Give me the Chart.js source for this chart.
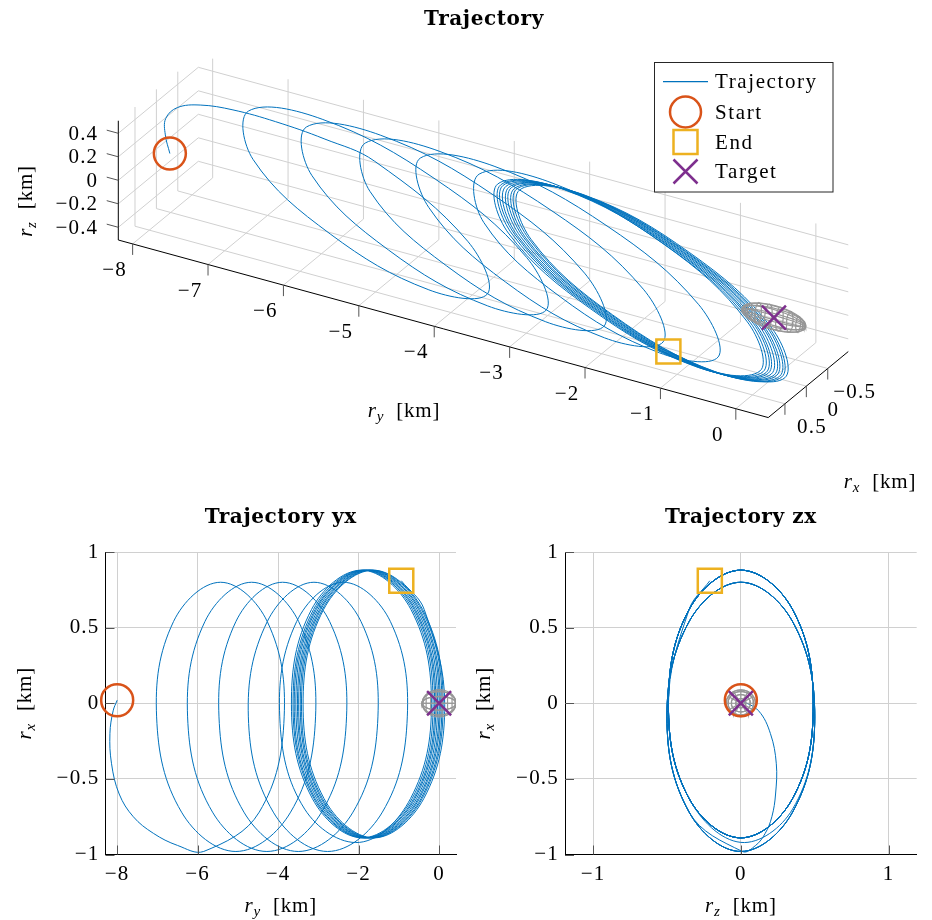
<!DOCTYPE html>
<html><head><meta charset="utf-8">
<script src="https://cdn.jsdelivr.net/npm/chart.js@4.4.1/dist/chart.umd.min.js"></script>
<style>
html,body{margin:0;padding:0;background:#fff;}
#wrap{position:relative;width:932px;height:920px;overflow:hidden;background:#fff;}
canvas{position:absolute;}
</style></head><body>
<div id="wrap">
<canvas id="c3d" width="932" height="505" style="left:0;top:0;width:932px;height:505px"></canvas>
<canvas id="cyx" width="466" height="430" style="left:0;top:490px;width:466px;height:430px"></canvas>
<canvas id="czx" width="466" height="430" style="left:466px;top:490px;width:466px;height:430px"></canvas>
</div>
<script>
// ---------------- DATA (km) ----------------
// trajectory samples: along-track ry, radial rx, cross-track rz
const trajRy = [
 -8.00, -8.10, -8.18, -8.14, -7.95, -7.60, -7.10, -6.50, -5.85,
 -4.47, -3.85, -4.27, -5.43, -6.60,
 -7.02, -6.40, -5.05, -3.69, -3.07, -3.49, -4.66, -5.82,
 -6.25, -5.63, -4.28, -2.92, -2.30, -2.72, -3.89, -5.05,
 -5.47, -4.85, -3.50, -2.14, -1.52, -1.94, -3.11, -4.27,
 -4.74, -4.12, -2.77, -1.41, -0.79, -1.21, -2.38, -3.54,
 -3.96, -3.34, -1.98,
 -0.71, -0.19, -0.70, -1.93, -3.17,
 -3.67, -3.15, -1.91, -0.67, -0.15, -0.66, -1.89, -3.12,
 -3.63, -3.11, -1.87, -0.63, -0.11, -0.62, -1.85, -3.08,
 -3.60, -3.08, -1.84, -0.60, -0.08, -0.59, -1.82, -3.05,
 -3.56, -3.04, -1.80, -0.56, -0.04, -0.55, -1.78, -3.01,
 -3.52, -3.00, -1.76, -0.52,  0.00, -0.51, -1.74, -2.97,
 -3.49, -2.97, -1.73, -0.49,  0.03, -0.48, -1.71, -2.94,
 -3.45, -2.93, -1.69, -0.45,  0.07, -0.44, -1.67, -2.90,
 -3.42, -2.90, -1.66, -0.42,  0.10, -0.41, -1.64, -2.87,
 -3.38, -2.86, -1.62, -0.38,  0.14, -0.37, -0.94
];
const trajRx = [
  0.02, -0.05, -0.20, -0.40, -0.60, -0.75, -0.86, -0.94, -0.98,
 -0.72, -0.09,  0.54,  0.80,  0.54,
 -0.09, -0.72, -0.98, -0.72, -0.09,  0.54,  0.80,  0.54,
 -0.09, -0.72, -0.98, -0.72, -0.09,  0.54,  0.80,  0.54,
 -0.09, -0.72, -0.98, -0.72, -0.09,  0.54,  0.80,  0.54,
 -0.09, -0.72, -0.98, -0.72, -0.09,  0.54,  0.80,  0.54,
 -0.09, -0.70, -0.92,
 -0.63, -0.01,  0.62,  0.88,  0.62,
 -0.01, -0.63, -0.89, -0.63, -0.01,  0.62,  0.88,  0.62,
 -0.01, -0.63, -0.89, -0.63, -0.01,  0.62,  0.88,  0.62,
 -0.01, -0.63, -0.89, -0.63, -0.01,  0.62,  0.88,  0.62,
 -0.01, -0.63, -0.89, -0.63, -0.01,  0.62,  0.88,  0.62,
 -0.01, -0.63, -0.89, -0.63, -0.01,  0.62,  0.88,  0.62,
 -0.01, -0.63, -0.89, -0.63, -0.01,  0.62,  0.88,  0.62,
 -0.01, -0.63, -0.89, -0.63, -0.01,  0.62,  0.88,  0.62,
 -0.01, -0.63, -0.89, -0.63, -0.01,  0.62,  0.88,  0.62,
 -0.01, -0.63, -0.89, -0.63, -0.01,  0.62,  0.81
];
const trajRz = [
  0.00,  0.12,  0.20,  0.24,  0.235, 0.21,  0.165, 0.10,  0.01,
 -0.35, -0.50, -0.35,  0.00,  0.35,
  0.50,  0.35,  0.00, -0.35, -0.50, -0.35,  0.00,  0.35,
  0.50,  0.35,  0.00, -0.35, -0.50, -0.35,  0.00,  0.35,
  0.50,  0.35,  0.00, -0.35, -0.50, -0.35,  0.00,  0.35,
  0.50,  0.35,  0.00, -0.35, -0.50, -0.35,  0.00,  0.35,
  0.50,  0.35,  0.00,
 -0.35, -0.49, -0.35,  0.00,  0.35,
  0.49,  0.35,  0.00, -0.35, -0.49, -0.35,  0.00,  0.35,
  0.49,  0.35,  0.00, -0.35, -0.49, -0.35,  0.00,  0.35,
  0.49,  0.35,  0.00, -0.35, -0.49, -0.35,  0.00,  0.35,
  0.49,  0.35,  0.00, -0.35, -0.49, -0.35,  0.00,  0.35,
  0.49,  0.35,  0.00, -0.35, -0.49, -0.35,  0.00,  0.35,
  0.49,  0.35,  0.00, -0.35, -0.49, -0.35,  0.00,  0.35,
  0.49,  0.35,  0.00, -0.35, -0.49, -0.35,  0.00,  0.35,
  0.49,  0.35,  0.00, -0.35, -0.49, -0.35,  0.00,  0.35,
  0.49,  0.35,  0.00, -0.35, -0.49, -0.35, -0.21
];
const startPoint  = [-8.00, 0.02, 0.00];   // [ry, rx, rz]
const endPoint    = [-0.94, 0.81, -0.21];
const targetPoint = [0, 0, 0];
const keepOutRadii = [0.42, 0.09, 0.10];   // ellipsoid semi-axes [ry, rx, rz]
const meshMeridians = [0, 30, 60, 90, 120, 150, 180, 210, 240, 270, 300, 330];
const meshLatitudes = [20, 40, 60, 80, 100, 120, 140, 160];

// tick labels
const ryTicks3D = [-8, -7, -6, -5, -4, -3, -2, -1, 0];
const rxTicks3D = [-0.5, 0, 0.5];
const rzTicks3D = [-0.4, -0.2, 0, 0.2, 0.4];
const ryTicks2D = [-8, -6, -4, -2, 0];
const rzTicks2D = [-1, 0, 1];
const rxTicks2D = [-1, -0.5, 0, 0.5, 1];
const legendLabels = ['Trajectory', 'Start', 'End', 'Target'];

// ---------------- STYLE ----------------
const C_TRAJ = '#0072BD', C_START = '#D95319', C_END = '#EDB120', C_TGT = '#7E2F8E';
const C_MESH = '#979797', C_GRID = '#d0d0d0';
const FONT = '"Liberation Serif", "Times New Roman", serif';
const TFONT = '"DejaVu Serif", serif';
const LS = '1.2px';

function fmt(v) { return (v < 0 ? '\u2212' : '') + String(Math.abs(v)); }

// 3D box geometry
const lim3 = { ry: [-8.19, 0.43], rx: [-0.98, 0.89], rz: [-0.508, 0.507] };
const corner3 = [118.3, 240];
const eY = [75.4, 20.6], eX = [-42.8, 35.3], eZ = [0, -117.5];
function proj3(ry, rx, rz) {
  const a = ry - lim3.ry[0], b = rx - lim3.rx[1], c = rz - lim3.rz[0];
  return { x: corner3[0] + a * eY[0] + b * eX[0] + c * eZ[0],
           y: corner3[1] + a * eY[1] + b * eX[1] + c * eZ[1] };
}

function meshLines() {
  const d = Math.PI / 180, [a, b, c] = keepOutRadii, [y0, x0, z0] = targetPoint;
  const lines = [];
  meshMeridians.forEach(ph => {
    const L = [];
    for (let t = 0; t <= 180; t += 10) L.push([y0 + a * Math.cos(t * d), x0 + b * Math.sin(t * d) * Math.cos(ph * d), z0 + c * Math.sin(t * d) * Math.sin(ph * d)]);
    lines.push(L);
  });
  meshLatitudes.forEach(t => {
    const L = [];
    for (let ph = 0; ph <= 360; ph += 15) L.push([y0 + a * Math.cos(t * d), x0 + b * Math.sin(t * d) * Math.cos(ph * d), z0 + c * Math.sin(t * d) * Math.sin(ph * d)]);
    lines.push(L);
  });
  return lines;
}
const MESH = meshLines();

function drawRLabel(ctx, sub, cx, cy, rot) {
  ctx.save();
  ctx.letterSpacing = '0.8px';
  ctx.translate(cx, cy);
  if (rot) ctx.rotate(-Math.PI / 2);
  const fIt = 'italic 21px ' + FONT, fSub = 'italic 15px ' + FONT, fMain = '21px ' + FONT;
  ctx.font = fIt; const w1 = ctx.measureText('r').width;
  ctx.font = fSub; const w2 = ctx.measureText(sub).width;
  ctx.font = fMain; const w3 = ctx.measureText('  [km]').width;
  let x = -(w1 + w2 + w3) / 2;
  const base = 7;
  ctx.fillStyle = '#000'; ctx.textAlign = 'left'; ctx.textBaseline = 'alphabetic';
  ctx.font = fIt; ctx.fillText('r', x, base); x += w1;
  ctx.font = fSub; ctx.fillText(sub, x, base + 4); x += w2;
  ctx.font = fMain; ctx.fillText('  [km]', x, base);
  ctx.restore();
}
function drawTitle(ctx, text, cx, baseY) {
  ctx.save();
  ctx.letterSpacing = '0.6px';
  ctx.font = 'bold 20px ' + TFONT;
  ctx.fillStyle = '#000'; ctx.textAlign = 'center'; ctx.textBaseline = 'alphabetic';
  ctx.fillText(text, cx, baseY);
  ctx.restore();
}
const spacingPlugin = { id: 'spacing', beforeDraw(chart) { chart.ctx.letterSpacing = LS; } };

const common = { animation: false, responsive: false, devicePixelRatio: 1, events: [],
  plugins: { legend: { display: false }, tooltip: { enabled: false } } };

// ---------------- 3D CHART ----------------
const box3dPlugin = {
  id: 'box3d',
  beforeDatasetsDraw(chart) {
    const ctx = chart.ctx, sx = chart.scales.x, sy = chart.scales.y;
    const P = (ry, rx, rz) => { const p = proj3(ry, rx, rz); return [sx.getPixelForValue(p.x), sy.getPixelForValue(p.y)]; };
    const line = (pts) => { ctx.beginPath(); pts.forEach((p, i) => i ? ctx.lineTo(p[0], p[1]) : ctx.moveTo(p[0], p[1])); ctx.stroke(); };
    const [y0, y1] = lim3.ry, [x0, x1] = lim3.rx, [z0, z1] = lim3.rz;
    ctx.save();
    ctx.strokeStyle = C_GRID; ctx.lineWidth = 1;
    rzTicks3D.forEach(z => line([P(y0, x1, z), P(y0, x0, z), P(y1, x0, z)]));
    ryTicks3D.forEach(y => { line([P(y, x0, z0), P(y, x0, z1)]); line([P(y, x1, z0), P(y, x0, z0)]); });
    rxTicks3D.forEach(x => { line([P(y0, x, z0), P(y0, x, z1)]); line([P(y0, x, z0), P(y1, x, z0)]); });
    ctx.strokeStyle = '#000';
    line([P(y0, x1, z1), P(y0, x1, z0), P(y1, x1, z0), P(y1, x0, z0)]);
    ctx.strokeStyle = '#555';
    const n = Math.hypot(eY[0], eY[1]);
    ryTicks3D.forEach(y => { const p = P(y, x1, z0); line([p, [p[0], p[1] + 11]]); });
    rxTicks3D.forEach(x => { const p = P(y1, x, z0); line([p, [p[0], p[1] + 11]]); });
    rzTicks3D.forEach(z => { const p = P(y0, x1, z); line([p, [p[0] - 12 * eY[0] / n, p[1] - 12 * eY[1] / n]]); });
    ctx.fillStyle = '#000'; ctx.font = '21px ' + FONT; ctx.textBaseline = 'middle';
    ctx.textAlign = 'center';
    ryTicks3D.forEach(y => { const p = P(y, x1, z0); ctx.fillText(fmt(y), p[0] - 18, p[1] + 26.5); });
    rxTicks3D.forEach(x => { const p = P(y1, x, z0); ctx.fillText(fmt(x), p[0] + 27, p[1] + 24); });
    ctx.textAlign = 'right';
    rzTicks3D.forEach(z => { const p = P(y0, x1, z); ctx.fillText(fmt(z), p[0] - 20, p[1] + 1); });
    ctx.restore();
    drawRLabel(ctx, 'y', 404, 410, false);
    drawRLabel(ctx, 'z', 25, 201, true);
    drawRLabel(ctx, 'x', 880, 481, false);
    drawTitle(ctx, 'Trajectory', 484, 25);
  },
  afterDatasetsDraw(chart) {
    const ctx = chart.ctx;
    ctx.save();
    const bx = 654.5, by = 62.5, bw = 178.5, bh = 129.5;
    ctx.fillStyle = '#fff'; ctx.fillRect(bx, by, bw, bh);
    ctx.strokeStyle = '#262626'; ctx.lineWidth = 1; ctx.strokeRect(bx, by, bw, bh);
    const rows = [81.7, 112, 142, 171.5], mx = 685.5;
    ctx.strokeStyle = C_TRAJ; ctx.lineWidth = 1.2;
    ctx.beginPath(); ctx.moveTo(663, rows[0]); ctx.lineTo(708, rows[0]); ctx.stroke();
    ctx.lineWidth = 2.5;
    ctx.strokeStyle = C_START; ctx.beginPath(); ctx.arc(mx, rows[1], 15.5, 0, Math.PI * 2); ctx.stroke();
    ctx.strokeStyle = C_END; ctx.strokeRect(mx - 12, rows[2] - 12, 24, 24);
    ctx.strokeStyle = C_TGT; ctx.beginPath();
    ctx.moveTo(mx - 12, rows[3] - 12); ctx.lineTo(mx + 12, rows[3] + 12);
    ctx.moveTo(mx + 12, rows[3] - 12); ctx.lineTo(mx - 12, rows[3] + 12); ctx.stroke();
    ctx.letterSpacing = '1.6px';
    ctx.fillStyle = '#000'; ctx.font = '21px ' + FONT; ctx.textAlign = 'left'; ctx.textBaseline = 'middle';
    legendLabels.forEach((t, i) => ctx.fillText(t, 715, rows[i] + 1));
    ctx.restore();
  }
};

function markerSets(toXY) {
  return [
    { label: 'Start', data: [toXY(...startPoint)], showLine: false, pointStyle: 'circle', pointRadius: 16, pointBorderWidth: 2.5,
      pointBorderColor: C_START, pointBackgroundColor: 'rgba(0,0,0,0)', order: 3, clip: false },
    { label: 'End', data: [toXY(...endPoint)], showLine: false, pointStyle: 'rect', pointRadius: 17, pointBorderWidth: 2.5,
      pointBorderColor: C_END, pointBackgroundColor: 'rgba(0,0,0,0)', order: 2, clip: false },
    { label: 'Target', data: [toXY(...targetPoint)], showLine: false, pointStyle: 'crossRot', pointRadius: 17, pointBorderWidth: 2.5,
      pointBorderColor: C_TGT, pointBackgroundColor: 'rgba(0,0,0,0)', order: 1, clip: false }
  ];
}
function buildSets(toXY) {
  const sets = [{ label: 'Trajectory', data: trajRy.map((v, i) => toXY(v, trajRx[i], trajRz[i])), showLine: true,
    borderColor: C_TRAJ, borderWidth: 1, pointRadius: 0, tension: 0.38, fill: false, order: 5 }];
  MESH.forEach(L => sets.push({ data: L.map(p => toXY(p[0], p[1], p[2])), showLine: true, borderColor: C_MESH,
    borderWidth: 1.2, pointRadius: 0, tension: 0, fill: false, order: 4 }));
  return sets.concat(markerSets(toXY));
}

new Chart(document.getElementById('c3d'), {
  type: 'scatter',
  data: { datasets: buildSets(proj3) },
  options: Object.assign({}, common, {
    layout: { padding: 0, autoPadding: false },
    scales: { x: { type: 'linear', min: 0, max: 932, display: false },
              y: { type: 'linear', min: 0, max: 505, reverse: true, display: false } }
  }),
  plugins: [spacingPlugin, box3dPlugin]
});

// ---------------- 2D CHARTS ----------------
function deco2D(title, xsub) {
  return {
    id: 'deco2d',
    afterDatasetsDraw(chart) {
      const ctx = chart.ctx, a = chart.chartArea, sx = chart.scales.x, sy = chart.scales.y;
      ctx.save();
      ctx.strokeStyle = '#555'; ctx.lineWidth = 1;
      sx.ticks.forEach(t => { const x = Math.round(sx.getPixelForValue(t.value)) + 0.5; ctx.beginPath(); ctx.moveTo(x, a.bottom); ctx.lineTo(x, a.bottom - 9); ctx.stroke(); });
      sy.ticks.forEach(t => { const y = Math.round(sy.getPixelForValue(t.value)) + 0.5; ctx.beginPath(); ctx.moveTo(a.left, y); ctx.lineTo(a.left + 9, y); ctx.stroke(); });
      ctx.restore();
      const cx = (a.left + a.right) / 2;
      drawTitle(ctx, title, cx, 33);
      drawRLabel(ctx, xsub, cx, 415, false);
      drawRLabel(ctx, 'x', a.left - 82, (a.top + a.bottom) / 2, true);
    }
  };
}
function make2D(id, xsub, xr, xticks, yAxisW, padRight, toXY, title) {
  const tickFont = { family: FONT, size: 21 };
  return new Chart(document.getElementById(id), {
    type: 'scatter',
    data: { datasets: buildSets(toXY) },
    options: Object.assign({}, common, {
      layout: { padding: { top: 62, right: padRight, left: 0, bottom: 0 }, autoPadding: false },
      scales: {
        x: { type: 'linear', min: xr[0], max: xr[1],
             afterBuildTicks: s => { s.ticks = xticks.map(v => ({ value: v })); },
             afterFit: s => { s.height = 65.5; },
             ticks: { callback: v => fmt(v), color: '#000', font: tickFont, padding: 7, autoSkip: false, maxRotation: 0 },
             grid: { color: C_GRID, lineWidth: 1, drawTicks: false },
             border: { display: true, color: '#000', width: 1 } },
        y: { type: 'linear', min: -1, max: 1,
             afterBuildTicks: s => { s.ticks = rxTicks2D.map(v => ({ value: v })); },
             afterFit: s => { s.width = yAxisW; },
             ticks: { callback: v => fmt(v), color: '#000', font: tickFont, padding: 6, autoSkip: false },
             grid: { color: C_GRID, lineWidth: 1, drawTicks: false },
             border: { display: true, color: '#000', width: 1 } }
      }
    }),
    plugins: [spacingPlugin, deco2D(title, xsub)]
  });
}
make2D('cyx', 'y', [-8.29, 0.42], ryTicks2D, 105.5, 10, (ry, rx, rz) => ({ x: ry, y: rx }), 'Trajectory yx');
make2D('czx', 'z', [-1.19, 1.19], rzTicks2D, 99, 15.3, (ry, rx, rz) => ({ x: rz, y: rx }), 'Trajectory zx');
</script>
</body></html>
